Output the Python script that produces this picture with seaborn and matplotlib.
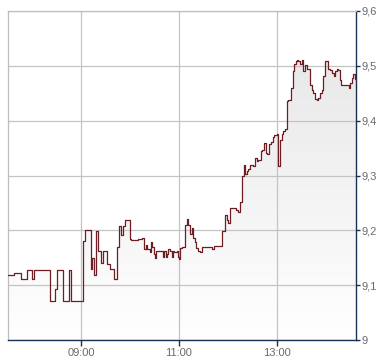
import numpy as np
import pandas as pd
import matplotlib
matplotlib.use("Agg")
import matplotlib.pyplot as plt
import seaborn as sns
from matplotlib.colors import LinearSegmentedColormap

# minutes after 07:30 at which each price step starts
minutes = [0, 7.4, 15.6, 23.8, 29.9, 32.0, 52.0, 57.3, 60.2, 67.6, 75.0, 77.8,
           92.2, 94.2, 101.6, 103.2, 105.7, 108.1, 110.6, 114.7, 116.3, 122.1,
           125.3, 130.3, 134.3, 136.4, 139.3, 141.3, 143.4, 149.5, 151.6,
           159.3, 165.0, 167.5, 169.1, 170.7, 174.0, 175.7, 177.3, 178.9, 180.6,
           182.2, 187.9, 190.4, 192.0, 193.7, 195.3, 196.9, 198.6, 201.0, 202.7,
           204.3, 207.2, 208.4, 210.0, 210.9, 213.3, 217.4, 219.5, 221.5, 223.6,
           225.6, 227.6, 229.7, 231.3, 233.8, 236.2, 238.7, 251.0, 253.4, 263.3,
           266.5, 269.0, 270.6, 272.7, 280.5, 282.1, 285.0, 287.0, 289.5, 291.1,
           293.2, 295.2, 297.2, 301.3,
           303.4, 305.4, 307.5, 310.8, 312.4, 314.9, 316.5, 318.1, 320.6, 323.1,
           325.5, 327.1, 330.0, 331.2, 332.1, 334.5, 336.2, 338.2, 340.2, 342.3,
           344.3, 347.6, 349.7, 351.7, 353.3, 355.0, 356.6, 358.7, 360.7, 362.8,
           364.8, 366.9, 371.0, 373.0, 375.0, 377.1, 379.1, 381.2, 383.2, 385.3,
           387.3, 389.4, 393.5, 395.5, 398.4, 400.0, 401.7, 403.7, 405.0, 407.8,
           409.0, 418.9, 420.1, 422.1, 424.2, 426.2]
prices = [9.119, 9.122, 9.111, 9.127, 9.111, 9.127, 9.071, 9.093, 9.127, 9.071,
          9.127, 9.071, 9.180, 9.200, 9.130, 9.150, 9.119, 9.198, 9.162, 9.141,
          9.162, 9.138, 9.130, 9.111, 9.170, 9.208, 9.192, 9.208, 9.219, 9.185,
          9.183,
          9.185, 9.186, 9.166, 9.174, 9.166, 9.160, 9.178, 9.169, 9.157, 9.149,
          9.162, 9.163, 9.152, 9.162, 9.151, 9.157, 9.166, 9.162, 9.152, 9.163,
          9.160, 9.163, 9.151, 9.148, 9.168, 9.170, 9.209, 9.220, 9.209, 9.194,
          9.205, 9.186, 9.178, 9.168, 9.163, 9.161, 9.170, 9.166, 9.172, 9.199,
          9.228, 9.219, 9.214, 9.240, 9.237, 9.234, 9.251, 9.300, 9.320, 9.302,
          9.308, 9.312, 9.320, 9.317,
          9.332, 9.326, 9.329, 9.344, 9.347, 9.359, 9.341, 9.340, 9.358, 9.361,
          9.370, 9.373, 9.376, 9.320, 9.318, 9.365, 9.375, 9.381, 9.385, 9.435,
          9.438, 9.459, 9.490, 9.504, 9.508, 9.511, 9.508, 9.504, 9.511, 9.490,
          9.502, 9.494, 9.465, 9.456, 9.450, 9.439, 9.438, 9.441, 9.450, 9.456,
          9.481, 9.508, 9.494, 9.493, 9.487, 9.482, 9.491, 9.495, 9.493, 9.475,
          9.465, 9.459, 9.468, 9.478, 9.485, 9.476]
end_minute = 427.5
x_tick_minutes = [90, 210, 330]
x_tick_labels = ["09:00", "11:00", "13:00"]
y_ticks = [9.0, 9.1, 9.2, 9.3, 9.4, 9.5, 9.6]
y_tick_labels = ["9", "9,1", "9,2", "9,3", "9,4", "9,5", "9,6"]

sns.set_style("white")
plt.rcParams['font.family'] = ['Liberation Sans', 'DejaVu Sans']

fig = plt.figure(figsize=(3.9, 3.64), dpi=100)
ax = fig.add_axes([8/390, 24/364, 348/390, 329/364])

df = pd.DataFrame({"minute": minutes + [end_minute],
                   "price": prices + [prices[-1]]})

ymin, ymax = y_ticks[0], y_ticks[-1]
poly = ax.fill_between(df["minute"], df["price"], ymin, step="post",
                       color="none", lw=0)
cmap = LinearSegmentedColormap.from_list("g", ["#ffffff", "#e5e5e5"])
grad = np.linspace(1, 0, 256).reshape(-1, 1)
im = ax.imshow(grad, cmap=cmap, vmin=0, vmax=1, extent=[0, end_minute, ymin, ymax],
               aspect="auto", origin="upper", zorder=0.2, interpolation="bilinear")
im.set_clip_path(poly.get_paths()[0], transform=ax.transData)

sns.lineplot(data=df, x="minute", y="price", drawstyle="steps-post",
             color="#6e1e22", lw=0.9, ax=ax, zorder=3)

ax.set_xlim(0, end_minute)
ax.set_ylim(ymin, ymax)
ax.set_xticks(x_tick_minutes)
ax.set_xticklabels(x_tick_labels)
ax.set_yticks(y_ticks)
ax.set_yticklabels(y_tick_labels)
ax.set_xlabel("")
ax.set_ylabel("")

ax.set_axisbelow(True)
ax.grid(True, color="#c4c4c4", lw=0.9)

ax.tick_params(axis="x", bottom=True, direction="out", length=4, width=1,
               color="#1c2f55", labelcolor="#6a6a6a", labelsize=8, pad=2)
ax.tick_params(axis="y", left=False, right=True, labelleft=False, labelright=True,
               direction="out", length=3, width=1, color="#1c2f55",
               labelcolor="#6a6a6a", labelsize=8, pad=1)

for s in ["left", "top"]:
    ax.spines[s].set_color("#bdbdbd")
    ax.spines[s].set_linewidth(0.9)
for s in ["right", "bottom"]:
    ax.spines[s].set_color("#1c2f55")
    ax.spines[s].set_linewidth(1.0)

fig.savefig("out.png", dpi=100)
